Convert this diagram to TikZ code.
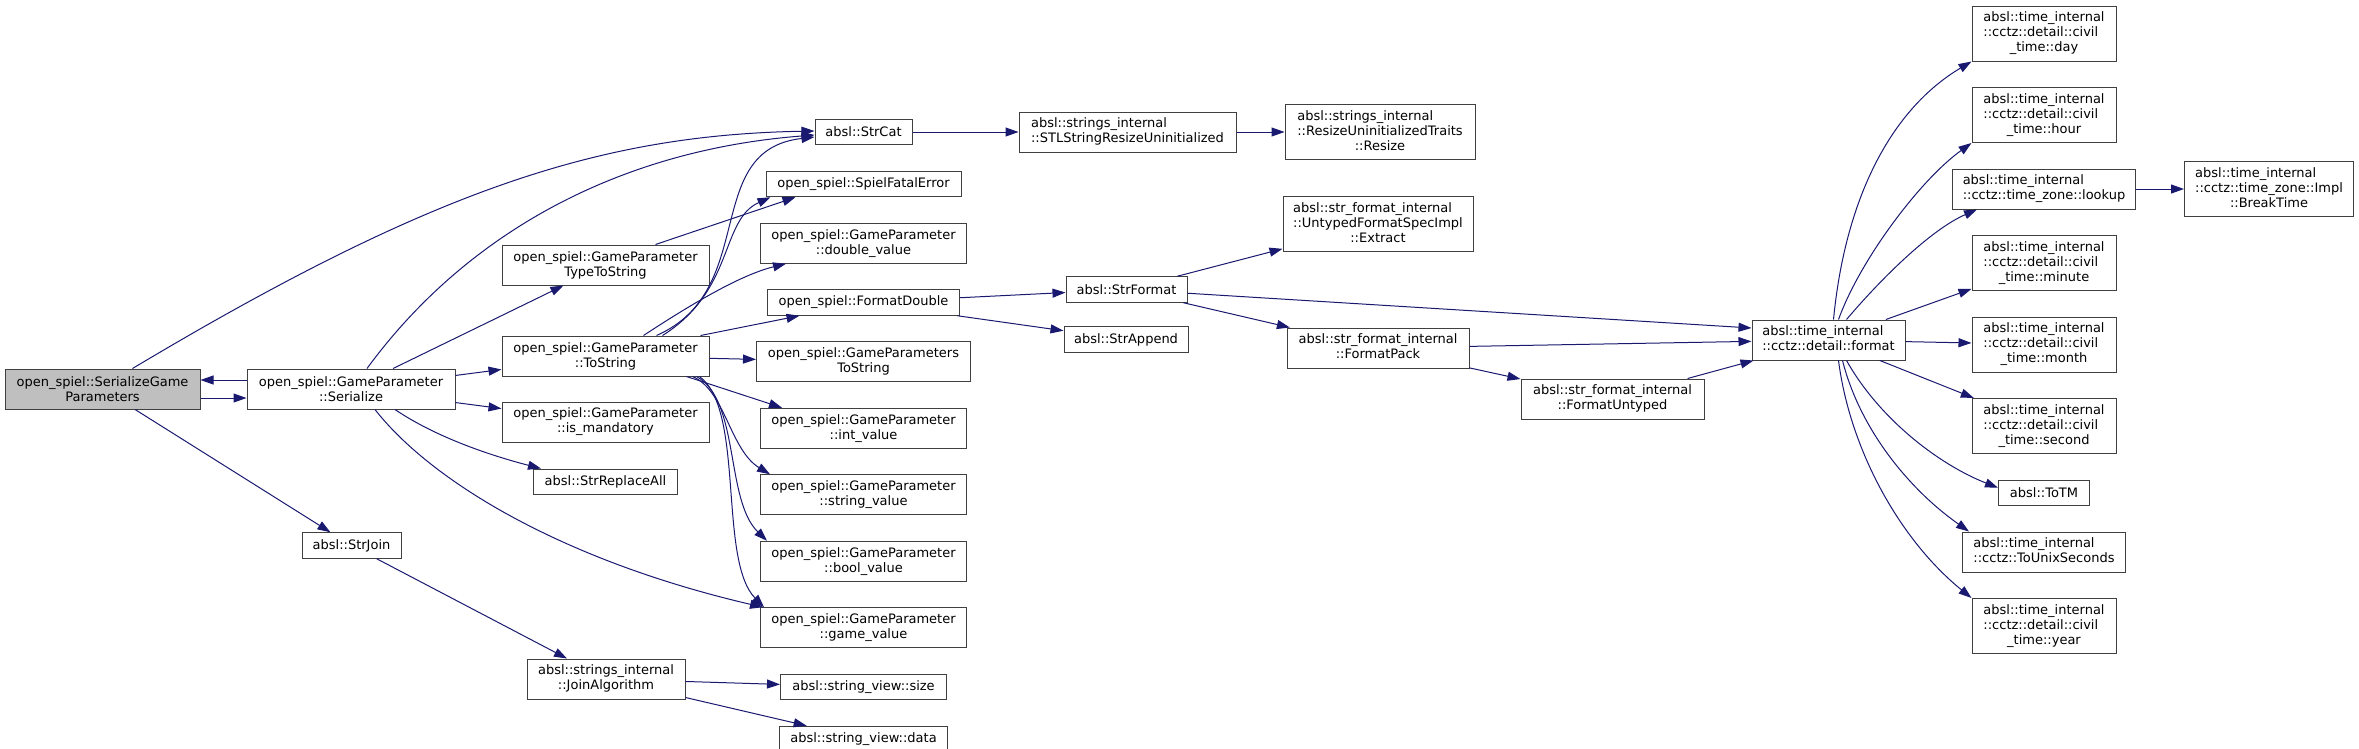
\documentclass[tikz,border=0pt]{standalone}
\usepackage{fontspec}
\setmainfont{DejaVu Sans}
\usetikzlibrary{arrows.meta, positioning}
\definecolor{edgeblue}{HTML}{191970}
\newcommand{\fnlabel}[2]{\begin{tabular}{@{}l@{}}#1\\\multicolumn{1}{@{}c@{}}{#2}\end{tabular}}

\begin{document}
\begin{tikzpicture}[
        x=1pt, y=-1pt,
        fn/.style={rectangle, draw=black!75, line width=1pt, fill=white, inner sep=0pt, minimum height=25.5pt, font=\fontsize{13}{15}\selectfont},
        fn2/.style={fn, align=center, minimum height=40pt},
        fn3/.style={fn, minimum height=55pt},
        focus/.style={fill=black!25},
        call/.style={-{Triangle[length=13pt, width=9pt]}, line width=1pt, edgeblue},
        node distance=25.5pt
    ]
    \useasboundingbox (0,0) rectangle (2359,748);

    % open_spiel side
    \node[fn2, focus, minimum width=195pt] (sgp) at (102.5,389) {open\_spiel::SerializeGame\\Parameters};
    \node[fn2, minimum width=208pt] (ser) at (351,389) {open\_spiel::GameParameter\\::Serialize};
    \node[fn, minimum width=99pt] (strjoin) at (351.5,545.5) {absl::StrJoin};

    \node[fn2, minimum width=207pt] (typestr) at (605.5,265) {open\_spiel::GameParameter\\TypeToString};
    \node[fn2, minimum width=207pt] (tostr) at (605.5,356) {open\_spiel::GameParameter\\::ToString};
    \node[fn2, minimum width=207pt, below=25pt of tostr] (ismand) {open\_spiel::GameParameter\\::is\_mandatory};
    \node[fn, minimum width=144pt, below=26pt of ismand] (replall) {absl::StrReplaceAll};
    \node[fn2, minimum width=158pt] (joinalg) at (606,679) {\fnlabel{absl::strings\_internal}{::JoinAlgorithm}};

    \node[fn, minimum width=97pt] (strcat) at (863.5,132) {absl::StrCat};
    \node[fn, minimum width=195pt, below=of strcat] (spiel) {open\_spiel::SpielFatalError};
    \node[fn2, minimum width=206pt, below=of spiel] (dblval) {open\_spiel::GameParameter\\::double\_value};
    \node[fn, minimum width=192pt, below=of dblval] (fmtdbl) {open\_spiel::FormatDouble};
    \node[fn2, minimum width=214pt, below=of fmtdbl] (gpstr) {open\_spiel::GameParameters\\ToString};
    \node[fn2, minimum width=206pt, below=of gpstr] (intval) {open\_spiel::GameParameter\\::int\_value};
    \node[fn2, minimum width=206pt, below=of intval] (strval) {open\_spiel::GameParameter\\::string\_value};
    \node[fn2, minimum width=206pt, below=of strval] (boolval) {open\_spiel::GameParameter\\::bool\_value};
    \node[fn2, minimum width=206pt, below=of boolval] (gameval) {open\_spiel::GameParameter\\::game\_value};
    \node[fn, minimum width=166pt, below=of gameval] (svsize) {absl::string\_view::size};
    \node[fn, minimum width=168pt, below=of svsize] (svdata) {absl::string\_view::data};

    % absl side
    \node[fn2, minimum width=217pt, right=106pt of strcat] (stlresize) {\fnlabel{absl::strings\_internal}{::STLStringResizeUninitialized}};
    \node[fn3, minimum width=190pt, right=48pt of stlresize] (resize) {\fnlabel{absl::strings\_internal\\::ResizeUninitializedTraits}{::Resize}};
    \node[fn3, minimum width=190pt] (extract) at (1378,224) {\fnlabel{absl::str\_format\_internal\\::UntypedFormatSpecImpl}{::Extract}};
    \node[fn, minimum width=121pt] (strfmt) at (1126.5,289.5) {absl::StrFormat};
    \node[fn, minimum width=124pt] (strapp) at (1126,339.5) {absl::StrAppend};
    \node[fn2, minimum width=182pt] (fmtpack) at (1378,348) {\fnlabel{absl::str\_format\_internal}{::FormatPack}};
    \node[fn2, minimum width=183pt] (fmtuntyped) at (1612.5,399) {\fnlabel{absl::str\_format\_internal}{::FormatUntyped}};
    \node[fn2, minimum width=153pt] (format) at (1828.5,340) {\fnlabel{absl::time\_internal}{::cctz::detail::format}};

    \node[fn3, minimum width=144pt] (day) at (2044,33.5) {\fnlabel{absl::time\_internal\\::cctz::detail::civil}{\_time::day}};
    \node[fn3, minimum width=144pt, below=of day] (hour) {\fnlabel{absl::time\_internal\\::cctz::detail::civil}{\_time::hour}};
    \node[fn2, minimum width=183pt, below=of hour] (lookup) {\fnlabel{absl::time\_internal}{::cctz::time\_zone::lookup}};
    \node[fn3, minimum width=169pt, right=48pt of lookup] (breaktime) {\fnlabel{absl::time\_internal\\::cctz::time\_zone::Impl}{::BreakTime}};
    \node[fn3, minimum width=144pt, below=of lookup] (minute) {\fnlabel{absl::time\_internal\\::cctz::detail::civil}{\_time::minute}};
    \node[fn3, minimum width=144pt, below=of minute] (month) {\fnlabel{absl::time\_internal\\::cctz::detail::civil}{\_time::month}};
    \node[fn3, minimum width=144pt, below=of month] (second) {\fnlabel{absl::time\_internal\\::cctz::detail::civil}{\_time::second}};
    \node[fn, minimum width=91pt, below=of second] (totm) {absl::ToTM};
    \node[fn2, minimum width=163pt, below=of totm] (unixsec) {\fnlabel{absl::time\_internal}{::cctz::ToUnixSeconds}};
    \node[fn3, minimum width=144pt, below=of unixsec] (year) {\fnlabel{absl::time\_internal\\::cctz::detail::civil}{\_time::year}};

    % calls from SerializeGameParameters and Serialize
    \draw[call] ([yshift=-9pt]sgp.east) -- ([yshift=-9pt]ser.west);
    \draw[call] ([yshift=9pt]ser.west) -- ([yshift=9pt]sgp.east);
    \draw[call] ([xshift=30pt]sgp.north) .. controls (433,189) and (600,135) .. ([yshift=1pt]strcat.west);
    \draw[call] (sgp) -- (strjoin);
    \draw[call] ([xshift=16pt]ser.north) .. controls (467,232) and (620,150) .. ([yshift=-3pt]strcat.west);
    \draw[call] (ser) -- (typestr);
    \draw[call] (ser) -- (tostr);
    \draw[call] (ser) -- (ismand);
    \draw[call] ([xshift=44pt]ser.south) .. controls (440,440) and (500,458) .. ([xshift=8pt]replall.north west);
    \draw[call] ([xshift=24pt]ser.south) .. controls (430,480) and (560,560) .. ([xshift=3pt]gameval.north west);
    \draw[call] ([xshift=50pt]typestr.north) -- ([xshift=30pt]spiel.south west);

    % calls from ToString
    \draw[call] ([xshift=51pt]tostr.north) .. controls (760,290) and (700,150) .. ([yshift=-5pt]strcat.west);
    \draw[call] ([xshift=57pt]tostr.north) .. controls (735,290) and (720,220) .. ([xshift=5pt]spiel.south west);
    \draw[call] ([xshift=38pt]tostr.north) .. controls (690,305) and (740,275) .. ([xshift=26pt]dblval.south west);
    \draw[call] ([xshift=95pt]tostr.north) -- ([xshift=-64pt]fmtdbl.south);
    \draw[call] (tostr) -- (gpstr);
    \draw[call] ([xshift=81pt]tostr.south) -- ([xshift=22pt]intval.north west);
    \draw[call] ([xshift=87pt]tostr.south) .. controls (725,390) and (730,450) .. ([xshift=10pt]strval.north west);
    \draw[call] ([xshift=91pt]tostr.south) .. controls (740,400) and (725,500) .. ([xshift=7pt]boolval.north west);
    \draw[call] ([xshift=94pt]tostr.south) .. controls (745,410) and (718,560) .. ([xshift=4pt]gameval.north west);

    \draw[call] (strjoin) -- (joinalg);
    \draw[call] (joinalg) -- (svsize);
    \draw[call] (joinalg) -- (svdata);
    \draw[call] (strcat) -- (stlresize);
    \draw[call] (stlresize) -- (resize);
    \draw[call] (fmtdbl) -- (strfmt);
    \draw[call] (fmtdbl) -- (strapp);
    \draw[call] (strfmt) -- (extract);
    \draw[call] (strfmt) -- (fmtpack);
    \draw[call] (strfmt) -- ([yshift=12pt]format.west);
    \draw[call] (fmtpack) -- (format);
    \draw[call] (fmtpack) -- (fmtuntyped);
    \draw[call] (fmtuntyped) -- (format);

    % calls from format
    \draw[call] ([xshift=5pt]format.north) .. controls (1845,200) and (1890,110) .. (day.south west);
    \draw[call] ([xshift=10pt]format.north) .. controls (1860,260) and (1920,180) .. (hour.south west);
    \draw[call] ([xshift=18pt]format.north) .. controls (1880,280) and (1930,230) .. ([xshift=25pt]lookup.south west);
    \draw[call] (format) -- (minute);
    \draw[call] (format) -- (month);
    \draw[call] (format) -- (second);
    \draw[call] ([xshift=18pt]format.south) .. controls (1880,420) and (1940,465) .. ([yshift=5pt]totm.west);
    \draw[call] ([xshift=14pt]format.south) .. controls (1860,430) and (1910,490) .. ([xshift=7pt]unixsec.north west);
    \draw[call] ([xshift=10pt]format.south) .. controls (1850,450) and (1900,540) .. (year.north west);
    \draw[call] (lookup) -- (breaktime);

\end{tikzpicture}
\end{document}
